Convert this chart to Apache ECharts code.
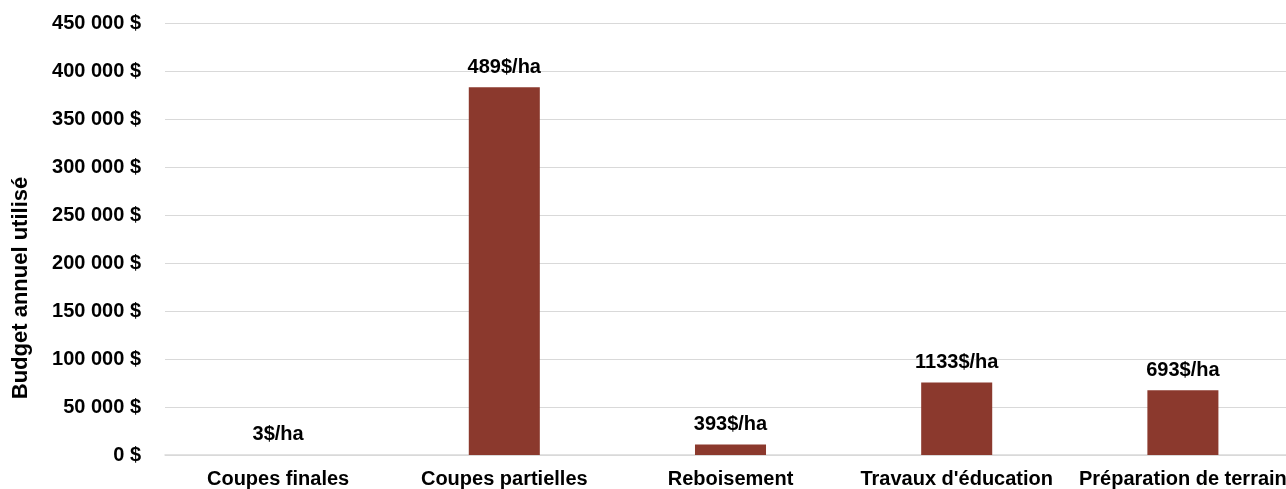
<!DOCTYPE html>
<html>
<head>
<meta charset="utf-8">
<script src="https://cdn.jsdelivr.net/npm/echarts@6/dist/echarts.min.js"></script>
<style>
  html, body { margin: 0; padding: 0; background: #fff; }
  #chart { width: 1286px; height: 489px; }
</style>
</head>
<body>
<div id="chart"></div>
<script>
// catégories de travaux
const categories = ['Coupes finales', 'Coupes partielles', 'Reboisement', "Travaux d'éducation", 'Préparation de terrain'];
// budget annuel utilisé ($)
const budget = [100, 383000, 11000, 75500, 67500];
// coût à l'hectare affiché au-dessus des barres
const perHa = ['3$/ha', '489$/ha', '393$/ha', '1133$/ha', '693$/ha'];

function fmtMoney(v) {
  return String(v).replace(/\B(?=(\d{3})+(?!\d))/g, ' ') + ' $';
}

const chart = echarts.init(document.getElementById('chart'));
chart.setOption({
  animation: false,
  textStyle: { fontFamily: 'Liberation Sans, Arial, sans-serif' },
  grid: { left: 165, right: -10, top: 23, bottom: 34, outerBoundsMode: 'none', containLabel: false },
  xAxis: {
    type: 'category',
    data: categories,
    axisLine: { lineStyle: { color: '#d9d9d9', width: 1.5 } },
    axisTick: { show: false },
    axisLabel: { color: '#000', fontWeight: 'bold', fontSize: 20, margin: 14, interval: 0 }
  },
  yAxis: {
    type: 'value',
    min: 0,
    max: 450000,
    interval: 50000,
    name: 'Budget annuel utilisé',
    nameLocation: 'middle',
    nameGap: 133,
    nameTextStyle: { color: '#000', fontWeight: 'bold', fontSize: 22, padding: [0, 98, 0, 0] },
    axisLine: { show: false },
    axisTick: { show: false },
    splitLine: { lineStyle: { color: '#d9d9d9', width: 1.2 } },
    axisLabel: { color: '#000', fontWeight: 'bold', fontSize: 20, margin: 24, formatter: fmtMoney }
  },
  series: [{
    type: 'bar',
    data: budget,
    barWidth: '31.4%',
    itemStyle: { color: '#8b392d' },
    label: {
      show: true,
      position: 'top',
      distance: 10,
      color: '#000',
      fontWeight: 'bold',
      fontSize: 20,
      formatter: p => perHa[p.dataIndex]
    }
  }]
});
</script>
</body>
</html>
